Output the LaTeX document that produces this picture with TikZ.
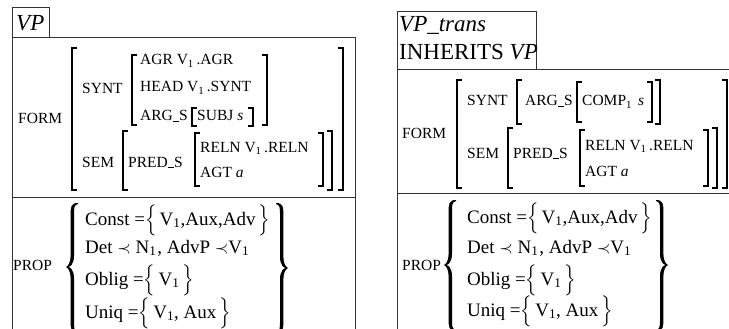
\documentclass[tikz,border=0pt]{standalone}
\usepackage{amsmath}
\usepackage{fontspec}
\setmainfont{Liberation Serif}
\newcommand\sbone{\textsubscript{1}}
\newcommand\us{\kern0.02em\rule[-0.06em]{0.36em}{0.055em}\kern0.02em}
\newcommand\avmL[3]{\draw[brk] (#1+5,#2) -- (#1,#2) -- (#1,#3) -- (#1+5,#3);}
\newcommand\avmR[3]{\draw[brk] (#1-5,#2) -- (#1,#2) -- (#1,#3) -- (#1-5,#3);}
% curly brace: #1 cusp x, #2 top, #3 cusp y, #4 bottom, #5 direction (1 = opening, -1 = closing)
\newcommand\curly[5]{%
 \fill ({#1+#5*12},#2) .. controls ({#1+#5*4.6},#2) and ({#1+#5*4.6},{#2+4}) .. ({#1+#5*4.6},{#2+13})
  -- ({#1+#5*4.6},{#3-11}) .. controls ({#1+#5*4.6},{#3-4}) and ({#1+#5*2},{#3-1}) .. (#1,#3)
  .. controls ({#1+#5*2},{#3+1}) and ({#1+#5*4.6},{#3+4}) .. ({#1+#5*4.6},{#3+11})
  -- ({#1+#5*4.6},{#4-13}) .. controls ({#1+#5*4.6},{#4-4}) and ({#1+#5*4.6},#4) .. ({#1+#5*12},#4)
  -- ({#1+#5*12},{#4-0.9}) .. controls ({#1+#5*7.8},{#4-2}) and ({#1+#5*8},{#4-5}) .. ({#1+#5*8},{#4-13})
  -- ({#1+#5*8},{#3+11}) .. controls ({#1+#5*8},{#3+3}) and ({#1+#5*4},#3) .. ({#1+#5*2.2},#3)
  .. controls ({#1+#5*4},#3) and ({#1+#5*8},{#3-3}) .. ({#1+#5*8},{#3-11})
  -- ({#1+#5*8},{#2+13}) .. controls ({#1+#5*8},{#2+5}) and ({#1+#5*7.8},{#2+2}) .. ({#1+#5*12},{#2+0.9}) -- cycle;}
\tikzset{
  boxline/.style={line width=0.9pt, draw=black!80},
  brk/.style={line width=1.3pt},
  ttl/.style={anchor=base west, inner sep=0pt, font=\fontsize{23}{27}\selectfont},
  lab/.style={anchor=base west, inner sep=0pt, font=\fontsize{15.5}{18}\selectfont},
  prp/.style={anchor=base west, inner sep=0pt, font=\fontsize{19}{23}\selectfont},
}
\begin{document}
\begin{tikzpicture}[x=1pt,y=-1pt]
\useasboundingbox (0,0) rectangle (729,329);
% ---------------- left box -----------------
\draw[boxline] (12,37) -- (12,7) -- (49,7) -- (49,37);
\draw[boxline] (12,330) -- (12,37) -- (355,37) -- (355,330);
\draw[boxline] (12,197) -- (355,197);
\node[ttl] (vp) at (16,31) {\textit{VP}};
\node[lab] (form1) at (18,124) {FORM};
\avmL{72}{48}{190} \avmR{343}{48}{190}
\node[lab] (synt1) at (82,94) {SYNT};
\avmL{132}{55}{125} \avmR{267}{55}{125}
\node[lab] (agr1) at (140,65) {AGR V\sbone\,.AGR};
\node[lab] (head1) at (140,92) {HEAD V\sbone\,.SYNT};
\node[lab] (args1) at (140,121) {ARG\us S};
\avmL{192}{108}{126} \avmR{253}{108}{126}
\node[lab] (subj1) at (197,121) {SUBJ \textit{s}};
\node[lab] (sem1) at (82,167) {SEM};
\avmL{123}{131}{190} \avmR{332}{131}{190}
\node[lab] (preds1) at (128,167) {PRED\us S};
\avmL{195}{133}{186} \avmR{323}{133}{186}
\node[lab] (reln1) at (200,152) {RELN V\sbone\,.RELN};
\node[lab] (agt1) at (200,177) {AGT \textit{a}};
\node[lab] (prop1) at (13,270) {PROP};
\curly{66}{203}{267}{333}{1}
\curly{288}{203}{268}{333}{-1}
\node[prp] (const1) at (85,225) {Const =$\Bigl\{$\,V\sbone,Aux,Adv\,$\Bigr\}$};
\node[prp] (det1) at (85,253) {Det $\prec$ N\sbone\kern1pt, AdvP $\prec$V\sbone};
\node[prp] (oblig1) at (85,285) {Oblig =$\Bigl\{$\,V\sbone\,$\Bigr\}$};
\node[prp] (uniq1) at (85,318) {Uniq =$\Bigl\{$\,V\sbone, Aux\,$\Bigr\}$};
% ---------------- right box -----------------
\draw[boxline] (397,69) -- (397,11) -- (536,11) -- (536,69);
\draw[boxline] (397,330) -- (397,69) -- (729,69);
\draw[boxline] (397,193) -- (729,193);
\node[ttl] (vpt) at (399,32) {\textit{VP\_trans}};
\node[ttl] (inh) at (399,60) {INHERITS \textit{VP}};
\node[lab] (form2) at (402,139) {FORM};
\avmL{457}{80}{188} \avmR{727}{80}{188}
\node[lab] (synt2) at (467,106) {SYNT};
\avmL{517}{80}{124} \avmR{660}{80}{124}
\node[lab] (args2) at (525,106) {ARG\us S};
\avmL{577}{82}{122} \avmR{652}{82}{122}
\node[lab] (comp2) at (582,106) {COMP\sbone\hspace{6pt}\textit{s}};
\node[lab] (sem2) at (467,158) {SEM};
\avmL{508}{128}{188} \avmR{717}{128}{188}
\node[lab] (preds2) at (513,158) {PRED\us S};
\avmL{580}{130}{186} \avmR{708}{130}{186}
\node[lab] (reln2) at (585,150) {RELN V\sbone\,.RELN};
\node[lab] (agt2) at (585,176) {AGT \textit{a}};
\node[lab] (prop2) at (402,270) {PROP};
\curly{444}{200}{265}{331}{1}
\curly{668}{200}{265}{331}{-1}
\node[prp] (const2) at (467,223) {Const =$\Bigl\{$\,V\sbone,Aux,Adv\,$\Bigr\}$};
\node[prp] (det2) at (467,253) {Det $\prec$ N\sbone\kern1pt, AdvP $\prec$V\sbone};
\node[prp] (oblig2) at (467,285) {Oblig =$\Bigl\{$\,V\sbone\,$\Bigr\}$};
\node[prp] (uniq2) at (467,316) {Uniq =$\Bigl\{$\,V\sbone, Aux\,$\Bigr\}$};
\end{tikzpicture}
\end{document}
